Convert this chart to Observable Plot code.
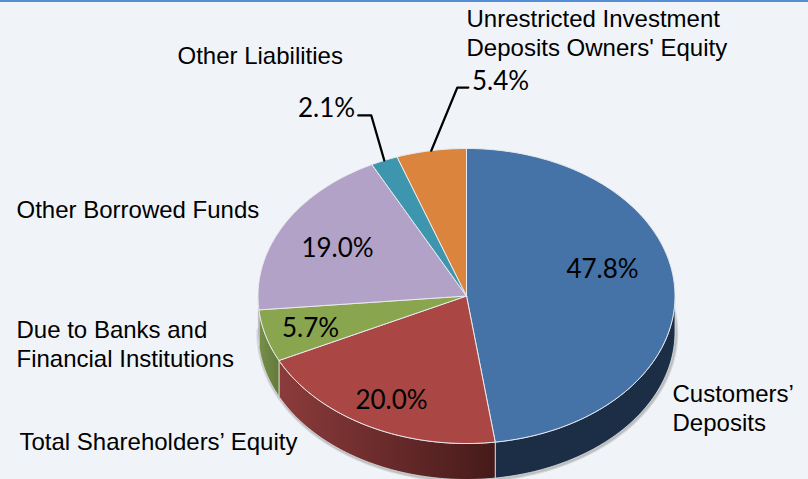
<!DOCTYPE html>
<html><head><meta charset="utf-8">
<style>html,body{margin:0;padding:0;background:#f0f4f8}svg{display:block}</style>
<script src="https://cdn.jsdelivr.net/npm/d3@7"></script>
<script src="https://cdn.jsdelivr.net/npm/@observablehq/plot@0.6"></script>
</head><body><div id="chart"></div>
<script>
const categories = ["Customers’\nDeposits","Total Shareholders’ Equity","Due to Banks and\nFinancial Institutions","Other Borrowed Funds","Other Liabilities","Unrestricted Investment\nDeposits Owners' Equity"];
const shares = [47.8,20.0,5.7,19.0,2.1,5.4];
const valueLabels = ["47.8%","20.0%","5.7%","19.0%","2.1%","5.4%"];
const topColors = ["#4572a7","#aa4643","#89a54e","#b3a2c7","#3d96ae","#db843d"];
const wallColors = ["#1c2e45","url(#redWall)","url(#greenWall)","#77688a","#2a6a7a","#94592a"];

// layout
const cx=466, cy=295.5, rx=208.5, ry=147.5, depth=36, W=808, H=479;
const pt=(deg,dy=0)=>{const a=deg*Math.PI/180;return {px:cx+rx*Math.sin(a),py:cy-ry*Math.cos(a)+dy};};
let acc=0;
const slices=shares.map((s,i)=>{const a0=acc/100*360;acc+=s;return {i,a0,a1:acc/100*360,mid:(a0+s/200*360)};});
const arc=(a0,a1,dy=0)=>{const n=Math.max(2,Math.ceil((a1-a0)));return d3.range(n+1).map(k=>pt(a0+(a1-a0)*k/n,dy));};
const face=s=>[{px:cx,py:cy},...arc(s.a0,s.a1),{px:cx,py:cy}];
const wall=s=>{const a0=Math.max(s.a0,90),a1=Math.min(s.a1,270);return a1>a0?[...arc(a0,a1),...arc(a0,a1,depth).reverse(),pt(a0)]:null;};
const rim=arc(62,271,depth);
const ch={x:"px",y:"py",curve:"linear"};

const labelPos=[[672,407],[19,440],[16,343],[16,208],[177,54],[466,32]];
const valuePos=[[602,269],[391,400],[310,328],[337,248],[326,108],[500,81]];
const leaderElbows=[null,null,null,null,[[-13,-45],[-26,-45]],[[26,-63],[37,-63]]];

const defsMark=()=>{
  const d=d3.create("svg:defs");
  const grad=(id,c0,c1)=>{const g=d.append("linearGradient").attr("id",id);
    g.append("stop").attr("offset","0").attr("stop-color",c0);
    g.append("stop").attr("offset","1").attr("stop-color",c1);};
  grad("redWall","#8c3b3b","#461a1a");
  grad("greenWall","#76904a","#64793a");
  return d.node();
};

const marks=[defsMark];
marks.push(Plot.rect([0],{x1:()=>0,x2:()=>W,y1:()=>0,y2:()=>2,fill:"#558ed5"}));
[5,3.5,2].forEach(w=>marks.push(Plot.line(rim,{...ch,stroke:"#555",strokeOpacity:0.13,strokeWidth:w,dx:0.8,dy:0.8})));
slices.forEach(s=>{const w=wall(s);if(w)marks.push(Plot.line(w,{...ch,fill:wallColors[s.i],stroke:"#dfe3e6",strokeWidth:0.8}));});
slices.forEach(s=>marks.push(Plot.line(face(s),{...ch,fill:topColors[s.i],stroke:"#e8ebee",strokeWidth:1})));
slices.forEach(s=>{const e=leaderElbows[s.i];if(!e)return;const p=pt(s.mid);
  marks.push(Plot.line([p,...e.map(([a,b])=>({px:p.px+a,py:p.py+b}))],{...ch,stroke:"#000",strokeWidth:2.3}));});
marks.push(Plot.text(categories,{x:(d,i)=>labelPos[i][0],y:(d,i)=>labelPos[i][1],text:d=>d,textAnchor:"start",fontFamily:"Liberation Sans",fontSize:24,lineHeight:1.2,fill:"#000"}));
marks.push(Plot.text(valueLabels,{x:(d,i)=>valuePos[i][0],y:(d,i)=>valuePos[i][1],text:d=>d,fontFamily:"Lato",fontSize:26,fill:"#000"}));

document.getElementById("chart").append(Plot.plot({
  width:W,height:H,margin:0,
  x:{domain:[0,W],range:[0,W],axis:null},
  y:{domain:[0,H],range:[0,H],axis:null},
  style:{background:"#f0f4f8"},
  marks
}));
</script></body></html>
